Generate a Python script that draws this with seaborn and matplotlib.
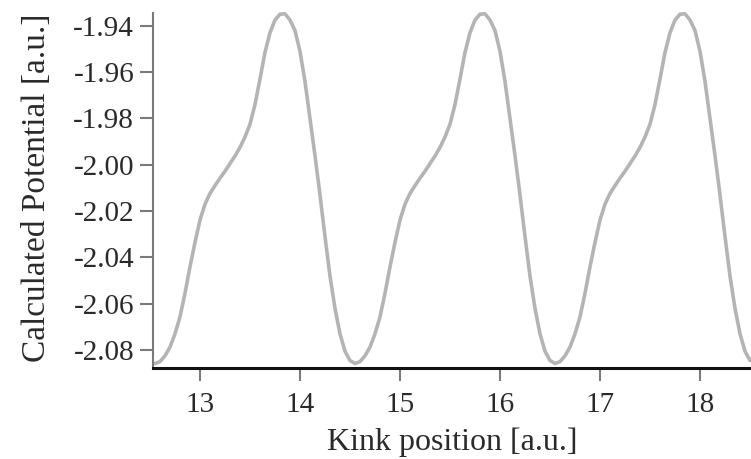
import matplotlib
matplotlib.use("Agg")
import matplotlib.pyplot as plt
import seaborn as sns
import numpy as np

# one period (2 a.u.) of the calculated potential, starting at 12.55
period_values = [
    -2.0858, -2.0850, -2.0825, -2.0787, -2.0730, -2.0657, -2.0555, -2.0441,
    -2.0335, -2.0239, -2.0170, -2.0124, -2.0090, -2.0058, -2.0028, -1.9995,
    -1.9962, -1.9925, -1.9880, -1.9825, -1.9740, -1.9630, -1.9515, -1.9430,
    -1.9375, -1.9350, -1.9348, -1.9375, -1.9420, -1.9510, -1.9640, -1.9800,
    -1.9960, -2.0130, -2.0310, -2.0480, -2.0620, -2.0730, -2.0805, -2.0845,
]
# the curve repeats three times over the shown range
potential = period_values * 3
kink_pos = np.round(np.arange(len(potential)) * 0.05 + 12.55, 2)

x_ticks = [13, 14, 15, 16, 17, 18]
y_ticks = [-2.08, -2.06, -2.04, -2.02, -2.00, -1.98, -1.96, -1.94]

sns.set_style("ticks")
plt.rcParams['font.family'] = ['Liberation Serif', 'DejaVu Serif']
plt.rcParams['axes.unicode_minus'] = False

fig = plt.figure(figsize=(7.51, 4.59), dpi=100)
ax = fig.add_axes([0.2037, 0.199, 0.7963, 0.772])

sns.lineplot(x=kink_pos, y=potential, color='#b4b4b4', linewidth=2.6, ax=ax)
for ln in ax.lines:
    ln.set_clip_on(False)

ax.set_xlim(12.53, 18.51)
ax.set_ylim(-2.0876, -1.9346)
ax.set_xticks(x_ticks)
ax.set_yticks(y_ticks)
ax.set_yticklabels([f'{v:.2f}' for v in y_ticks])

ax.tick_params(axis='both', direction='out', length=9.5, width=1.5,
               color='#7a7a7a', labelsize=21, labelcolor='#2a2a2a')
ax.tick_params(axis='x', pad=8)
ax.tick_params(axis='y', pad=4)

sns.despine(ax=ax, top=True, right=True)
ax.spines['left'].set_color('#7a7a7a')
ax.spines['left'].set_linewidth(1.5)
ax.spines['bottom'].set_color('#111111')
ax.spines['bottom'].set_linewidth(2.2)

ax.set_xlabel('Kink position [a.u.]', fontsize=23, color='#2a2a2a', va='baseline')
ax.xaxis.set_label_coords(0.5, -0.232)
ax.set_ylabel('Calculated Potential [a.u.]', fontsize=24, color='#2a2a2a', va='baseline')
ax.yaxis.set_label_coords(-0.1806, 0.508)

fig.savefig('out.png', dpi=100)
